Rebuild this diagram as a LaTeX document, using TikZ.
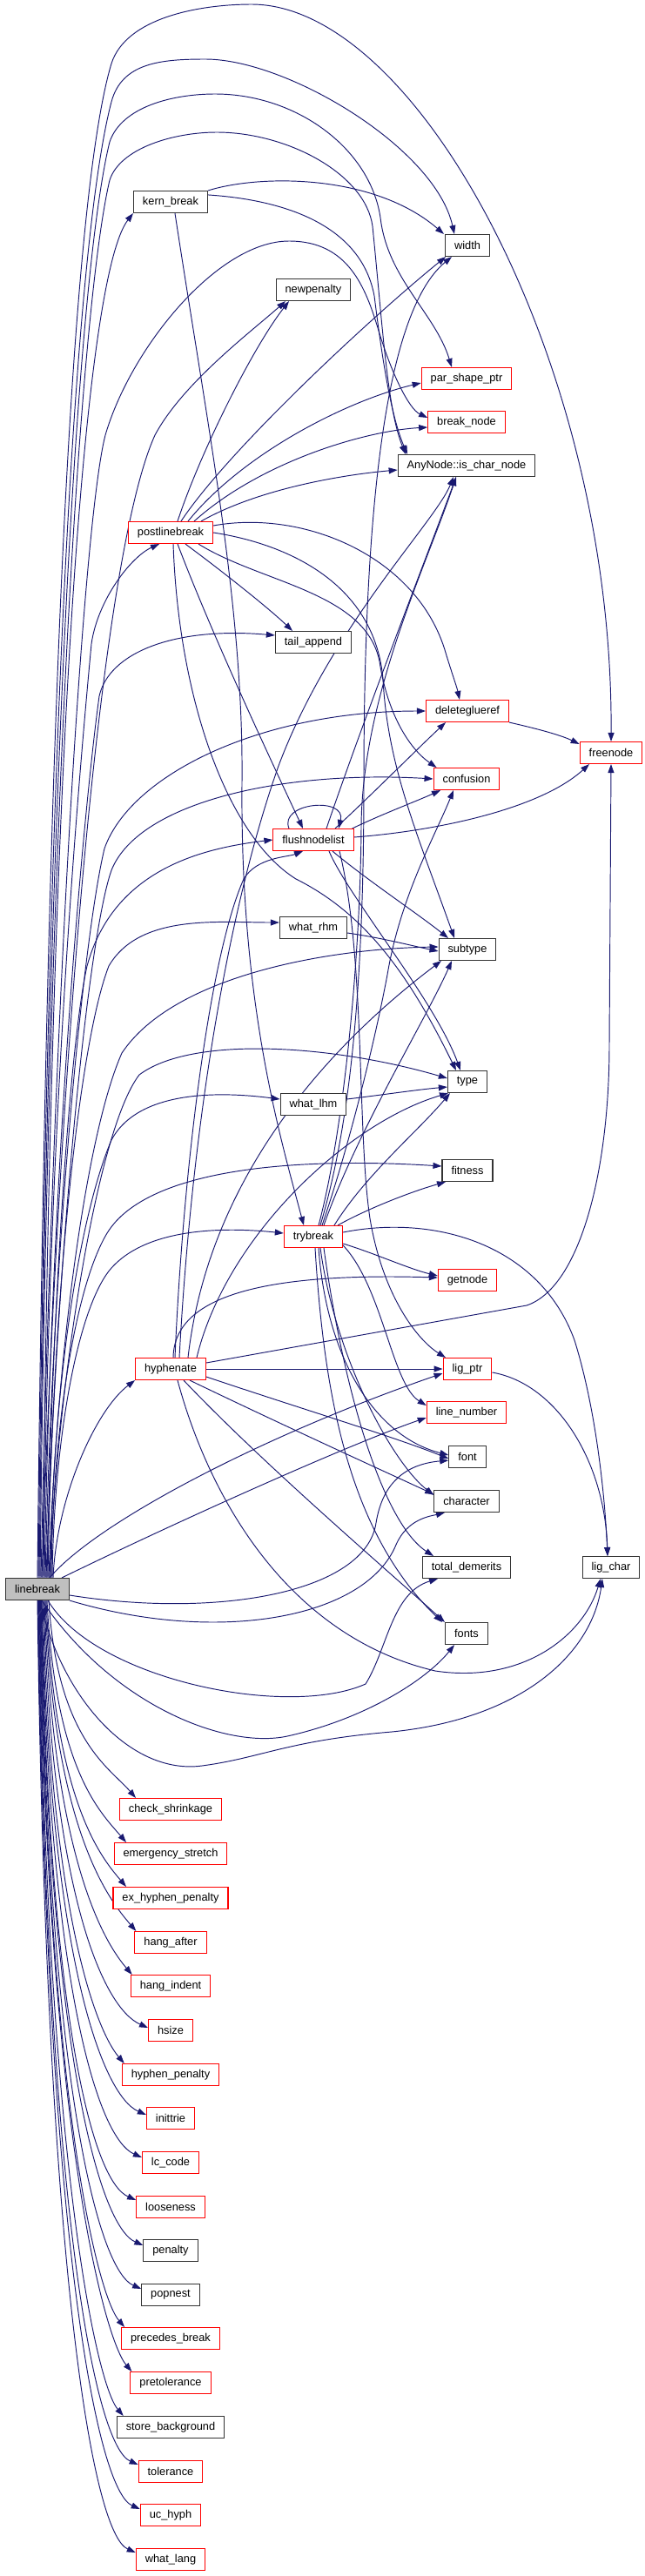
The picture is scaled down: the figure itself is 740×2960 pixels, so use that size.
\documentclass[tikz,border=0pt]{standalone}
\usepackage{fontspec}
\setmainfont{Liberation Sans}
\usetikzlibrary{arrows.meta}
\pgfdeclarelayer{edges}
\pgfsetlayers{edges,main}
\definecolor{eblue}{HTML}{191970}
\definecolor{nred}{HTML}{FF0000}
\newcommand\nodefont{\fontsize{12.8}{15}\selectfont}
\begin{document}
\begin{tikzpicture}[x=1pt,y=-1pt,
 box/.style={draw=black!80, line width=1.1pt, fill=white, minimum height=25pt, inner xsep=10.5pt, inner ysep=0pt, font=\nodefont, text=black},
 rbox/.style={box, draw=nred},
 e/.style={draw=eblue, line width=0.95pt, -{Triangle[length=10pt,width=7pt]}},
]
\useasboundingbox (0,0) rectangle (740,2960);
% nodes
\node[box, fill=gray!50] (linebreak) at (43,1826) {linebreak};
\node[box] (kernbreak) at (196,232) {kern\_break};
\node[rbox] (postlinebreak) at (196,612) {postlinebreak};
\node[rbox] (hyphenate) at (196,1573) {hyphenate};
\node[rbox] (checkshrinkage) at (196,2079) {check\_shrinkage};
\node[rbox] (emergencystretch) at (196,2130) {emergency\_stretch};
\node[rbox] (exhyphen) at (196,2181) {ex\_hyphen\_penalty};
\node[rbox] (hangafter) at (196,2232) {hang\_after};
\node[rbox] (hangindent) at (196,2282) {hang\_indent};
\node[rbox] (hsize) at (196,2333) {hsize};
\node[rbox] (hyphenpenalty) at (196,2384) {hyphen\_penalty};
\node[rbox] (inittrie) at (196,2434) {inittrie};
\node[rbox] (lccode) at (196,2485) {lc\_code};
\node[rbox] (looseness) at (196,2536) {looseness};
\node[box] (penalty) at (196,2586) {penalty};
\node[box] (popnest) at (196,2637) {popnest};
\node[rbox] (precedesbreak) at (196,2687) {precedes\_break};
\node[rbox] (pretolerance) at (196,2738) {pretolerance};
\node[box] (storebackground) at (196,2789) {store\_background};
\node[rbox] (tolerance) at (196,2840) {tolerance};
\node[rbox] (uchyph) at (196,2890) {uc\_hyph};
\node[rbox] (whatlang) at (196,2941) {what\_lang};
\node[box] (newpenalty) at (360,333) {newpenalty};
\node[box] (tailappend) at (360,738) {tail\_append};
\node[rbox] (flushnodelist) at (360,965) {flushnodelist};
\node[box] (whatrhm) at (360,1066) {what\_rhm};
\node[box] (whatlhm) at (360,1269) {what\_lhm};
\node[rbox] (trybreak) at (360,1421) {trybreak};
\node[box] (width) at (537,282) {width};
\node[rbox] (parshape) at (536,435) {par\_shape\_ptr};
\node[rbox] (breaknode) at (536,485) {break\_node};
\node[box] (ischar) at (536,535) {AnyNode::is\_char\_node};
\node[rbox] (deleteglueref) at (537,817) {deleteglueref};
\node[rbox] (confusion) at (536,895) {confusion};
\node[box] (subtype) at (537,1091) {subtype};
\node[box] (type) at (537,1243) {type};
\node[box] (fitness) at (537,1345) {fitness};
\node[rbox] (getnode) at (537,1471) {getnode};
\node[rbox] (ligptr) at (537,1573) {lig\_ptr};
\node[rbox] (linenumber) at (536,1623) {line\_number};
\node[box] (font) at (537,1674) {font};
\node[box] (character) at (536,1725) {character};
\node[box] (totaldemerits) at (536,1801) {total\_demerits};
\node[box] (fonts) at (536,1877) {fonts};
\node[rbox] (freenode) at (702,865) {freenode};
\node[box] (ligchar) at (702,1801) {lig\_char};

\begin{pgfonlayer}{edges}
\fill[white] (0,0) rectangle (740,2960);
% linebreak upward arcs
\draw[e] (linebreak.north) .. controls (52,1000) and (75,250) .. (128,73) .. controls (145,20) and (230,5) .. (289,5) .. controls (480,5) and (705,420) .. (freenode.north);
\draw[e] ([xshift=1pt]linebreak.north) .. controls (53,1000) and (80,300) .. (128,117) .. controls (140,72) and (185,68) .. (236,68) .. controls (330,68) and (500,170) .. ([xshift=-15pt]width.north);
\draw[e] ([xshift=2pt]linebreak.north) .. controls (54,1000) and (85,330) .. (126,163) .. controls (140,122) and (200,108) .. (247,108) .. controls (340,108) and (425,170) .. (437,250) .. controls (445,320) and (500,360) .. ([xshift=-17pt]parshape.north);
\draw[e] ([xshift=3pt]linebreak.north) .. controls (55,1000) and (90,360) .. (126,207) .. controls (138,170) and (200,152) .. (249,152) .. controls (330,152) and (420,200) .. (428,260) .. controls (440,380) and (445,470) .. ([xshift=-70pt]ischar.north);
\draw[e] ([xshift=4pt]linebreak.north) .. controls (60,1200) and (95,600) .. (121,500) .. controls (150,400) and (250,277) .. (332,277) .. controls (400,277) and (420,330) .. (435,380) .. controls (450,430) and (470,470) .. ([yshift=5pt]breaknode.west);
\draw[e] ([xshift=5pt]linebreak.north) .. controls (65,1300) and (110,650) .. (178,500) .. controls (210,440) and (290,380) .. ([xshift=-32pt]newpenalty.south);
\draw[e] ([xshift=6pt]linebreak.north) .. controls (58,900) and (95,320) .. (kernbreak.south west);
\draw[e] ([xshift=7pt]linebreak.north) .. controls (55,1300) and (90,900) .. (105,740) .. controls (112,690) and (150,640) .. ([xshift=-13pt]postlinebreak.south);
\draw[e] ([xshift=8pt]linebreak.north) .. controls (60,1300) and (100,900) .. (114,800) .. controls (125,750) and (200,720) .. ([yshift=8pt]tailappend.west);
\draw[e] ([xshift=9pt]linebreak.north) .. controls (60,1450) and (95,1080) .. (120,975) .. controls (150,890) and (300,817) .. (deleteglueref.west);
\draw[e] ([xshift=10pt]linebreak.north) .. controls (65,1450) and (100,1080) .. (128,1000) .. controls (160,920) and (330,885) .. (confusion.west);
\draw[e] ([xshift=11pt]linebreak.north) .. controls (60,1500) and (80,1200) .. (100,1110) .. controls (130,1000) and (230,975) .. (flushnodelist.west);
\draw[e] ([xshift=12pt]linebreak.north) .. controls (60,1500) and (90,1200) .. (125,1110) .. controls (160,1050) and (250,1060) .. ([yshift=6pt]whatrhm.west);
\draw[e] ([xshift=13pt]linebreak.north) .. controls (65,1550) and (100,1300) .. (140,1210) .. controls (200,1120) and (380,1090) .. ([yshift=3pt]subtype.west);
\draw[e] ([xshift=14pt]linebreak.north) .. controls (65,1600) and (110,1300) .. (160,1235) .. controls (220,1190) and (380,1200) .. ([yshift=4pt]type.west);
\draw[e] ([xshift=15pt]linebreak.north) .. controls (60,1600) and (90,1400) .. (128,1310) .. controls (160,1250) and (260,1255) .. ([yshift=6pt]whatlhm.west);
\draw[e] ([xshift=16pt]linebreak.north) .. controls (60,1650) and (85,1480) .. (123,1417) .. controls (170,1340) and (350,1330) .. ([yshift=5pt]fitness.west);
\draw[e] ([xshift=17pt]linebreak.north) .. controls (62,1650) and (90,1500) .. (128,1457) .. controls (170,1410) and (260,1410) .. ([yshift=4pt]trybreak.west);
\draw[e] ([xshift=18pt]linebreak.north) .. controls (65,1720) and (110,1620) .. (hyphenate.south west);
\draw[e] ([xshift=14pt]linebreak.north) .. controls (110,1750) and (300,1650) .. ([yshift=-5pt]ligptr.west);
\draw[e] ([xshift=28pt]linebreak.north) .. controls (200,1750) and (400,1660) .. ([yshift=-6pt]linenumber.west);
% linebreak right / bottom
\draw[e] ([yshift=-7pt]linebreak.east) .. controls (250,1860) and (420,1830) .. (432,1750) .. controls (440,1700) and (470,1682) .. ([yshift=-4pt]font.west);
\draw[e] (linebreak.south east) .. controls (250,1890) and (420,1860) .. (455,1775) .. controls (468,1745) and (495,1742) .. ([xshift=-25pt]character.south);
\draw[e] ([xshift=12pt]linebreak.south) .. controls (110,1930) and (330,1975) .. (420,1935) .. controls (445,1895) and (450,1830) .. ([xshift=-33pt]totaldemerits.south);
\draw[e] ([xshift=5pt]linebreak.south) .. controls (130,1960) and (260,2010) .. (330,1995) .. controls (420,1975) and (490,1930) .. ([xshift=-14pt]fonts.south);
\draw[e] ([xshift=3pt]linebreak.south) .. controls (70,1950) and (150,2040) .. (232,2029) .. controls (300,2020) and (330,2000) .. (450,1990) .. controls (600,1975) and (680,1900) .. ([xshift=-10pt]ligchar.south);
% linebreak downward list
\draw[e] ([xshift=13pt]linebreak.south) .. controls +(10,160) and +(-30,-35) .. ([xshift=-40pt]checkshrinkage.north);
\draw[e] ([xshift=11pt]linebreak.south) .. controls +(10,195) and +(-30,-35) .. ([xshift=-51pt]emergencystretch.north);
\draw[e] ([xshift=10pt]linebreak.south) .. controls +(10,230) and +(-30,-35) .. ([xshift=-51pt]exhyphen.north);
\draw[e] ([xshift=9pt]linebreak.south) .. controls +(10,267) and +(-30,-35) .. ([xshift=2pt]hangafter.north west);
\draw[e] ([xshift=8pt]linebreak.south) .. controls +(10,302) and +(-30,-35) .. ([xshift=2pt]hangindent.north west);
\draw[e] ([xshift=7pt]linebreak.south) .. controls +(10,344) and +(-50,-22) .. ([yshift=3pt]hsize.west);
\draw[e] ([xshift=6pt]linebreak.south) .. controls +(10,372) and +(-30,-35) .. ([xshift=3pt]hyphenpenalty.north west);
\draw[e] ([xshift=5pt]linebreak.south) .. controls +(10,414) and +(-50,-22) .. ([yshift=4pt]inittrie.west);
\draw[e] ([xshift=4.5pt]linebreak.south) .. controls +(10,448) and +(-50,-22) .. ([yshift=6pt]lccode.west);
\draw[e] ([xshift=4pt]linebreak.south) .. controls +(10,482) and +(-50,-22) .. ([yshift=8pt]looseness.west);
\draw[e] ([xshift=3.5pt]linebreak.south) .. controls +(10,519) and +(-50,-22) .. ([yshift=6pt]penalty.west);
\draw[e] ([xshift=3pt]linebreak.south) .. controls +(10,554) and +(-50,-22) .. ([yshift=7pt]popnest.west);
\draw[e] ([xshift=2.5pt]linebreak.south) .. controls +(10,585) and +(-30,-35) .. ([xshift=4pt]precedesbreak.north west);
\draw[e] ([xshift=2pt]linebreak.south) .. controls +(10,621) and +(-30,-35) .. ([xshift=2pt]pretolerance.north west);
\draw[e] ([xshift=1.5pt]linebreak.south) .. controls +(10,657) and +(-30,-35) .. ([xshift=8pt]storebackground.north west);
\draw[e] ([xshift=1pt]linebreak.south) .. controls +(10,695) and +(-50,-22) .. ([yshift=8pt]tolerance.west);
\draw[e] ([xshift=0.5pt]linebreak.south) .. controls +(10,731) and +(-50,-22) .. ([yshift=7pt]uchyph.west);
\draw[e] (linebreak.south) .. controls +(10,766) and +(-50,-22) .. ([yshift=8pt]whatlang.west);
% kern_break
\draw[e] (kernbreak.north east) .. controls (300,200) and (430,200) .. ([xshift=-27pt]width.north);
\draw[e] ([yshift=-5pt]kernbreak.north east) .. controls (330,230) and (415,260) .. (430,340) .. controls (440,420) and (450,480) .. ([xshift=-68pt]ischar.north);
\draw[e] ([xshift=5pt]kernbreak.south) .. controls (240,500) and (280,700) .. (278,900) .. controls (276,1150) and (320,1300) .. ([xshift=-11pt]trybreak.north);
% postlinebreak
\draw[e] ([xshift=8pt]postlinebreak.north) .. controls (230,520) and (290,400) .. ([xshift=-28pt]newpenalty.south);
\draw[e] ([xshift=12pt]postlinebreak.north) .. controls (260,520) and (420,370) .. ([xshift=-25pt]width.south);
\draw[e] ([xshift=20pt]postlinebreak.north) .. controls (280,520) and (400,460) .. ([yshift=-5pt]parshape.west);
\draw[e] ([xshift=27pt]postlinebreak.north) .. controls (300,530) and (420,495) .. ([yshift=-6pt]breaknode.west);
\draw[e] ([xshift=35pt]postlinebreak.north) .. controls (300,560) and (400,545) .. ([yshift=-5pt]ischar.west);
\draw[e] ([xshift=17pt]postlinebreak.south) .. controls (260,660) and (310,700) .. ([xshift=-24pt]tailappend.north);
\draw[e] ([xshift=8pt]postlinebreak.south) .. controls (240,720) and (300,850) .. ([xshift=-12pt]flushnodelist.north);
\draw[e] ([xshift=3pt]postlinebreak.south) .. controls (205,800) and (260,960) .. (340,1010) .. controls (420,1050) and (470,1120) .. ([xshift=-13pt]type.north);
\draw[e] ([xshift=32pt]postlinebreak.south) .. controls (300,670) and (420,680) .. (436,760) .. controls (445,820) and (470,860) .. ([xshift=4pt]confusion.north west);
\draw[e] (postlinebreak.east) .. controls (330,625) and (430,670) .. (440,780) .. controls (445,880) and (480,960) .. ([xshift=-15pt]subtype.north);
\draw[e] ([yshift=8pt]postlinebreak.east) .. controls (350,585) and (480,640) .. (512,750) .. controls (518,770) and (525,790) .. ([xshift=-9pt]deleteglueref.north);
% flushnodelist
\draw[e] ([xshift=-28pt]flushnodelist.north) .. controls (320,922) and (398,915) .. ([xshift=29pt]flushnodelist.north);
\draw[e] ([xshift=25pt]flushnodelist.north) .. controls (420,920) and (480,860) .. ([xshift=-25pt]deleteglueref.south);
\draw[e] ([xshift=-2pt]flushnodelist.north east) .. controls (440,935) and (480,920) .. ([xshift=-30pt]confusion.south);
\draw[e] ([yshift=3pt]flushnodelist.east) .. controls (500,955) and (620,930) .. ([xshift=-25pt]freenode.south);
\draw[e] ([xshift=15pt]flushnodelist.north) .. controls (420,820) and (490,640) .. ([xshift=-12pt]ischar.south);
\draw[e] ([xshift=22pt]flushnodelist.south) .. controls (420,1010) and (480,1050) .. ([xshift=-22pt]subtype.north);
\draw[e] ([xshift=18pt]flushnodelist.south) .. controls (400,1030) and (500,1150) .. ([xshift=-8pt]type.north);
\draw[e] ([xshift=30pt]flushnodelist.south) .. controls (420,1100) and (410,1300) .. (425,1400) .. controls (440,1490) and (480,1540) .. ([xshift=-25pt]ligptr.north);
% what_rhm / what_lhm
\draw[e] ([yshift=-6pt]whatrhm.east) .. controls (440,1078) and (470,1086) .. ([yshift=-2pt]subtype.west);
\draw[e] ([yshift=6pt]whatlhm.east) .. controls (440,1258) and (480,1252) .. ([yshift=-6pt]type.west);
% trybreak
\draw[e] ([xshift=8pt]trybreak.north) .. controls (400,1300) and (418,1150) .. (418,900) .. controls (418,600) and (440,360) .. ([xshift=-18pt]width.south);
\draw[e] ([xshift=6pt]trybreak.north) .. controls (395,1300) and (414,1100) .. (415,950) .. controls (416,800) and (490,650) .. ([xshift=-12pt]ischar.south);
\draw[e] ([xshift=10pt]trybreak.north) .. controls (400,1320) and (430,1200) .. (445,1120) .. controls (460,1030) and (500,960) .. ([xshift=-15pt]confusion.south);
\draw[e] ([xshift=12pt]trybreak.north) .. controls (410,1300) and (490,1170) .. ([xshift=-18pt]subtype.south);
\draw[e] ([xshift=24pt]trybreak.north) .. controls (420,1350) and (480,1300) .. ([xshift=-20pt]type.south);
\draw[e] ([xshift=28pt]trybreak.north) .. controls (420,1390) and (470,1370) .. ([xshift=-25pt]fitness.south);
\draw[e] ([yshift=-8pt]trybreak.east) .. controls (430,1440) and (470,1458) .. ([yshift=5pt]getnode.west);
\draw[e] ([yshift=5pt]trybreak.east) .. controls (500,1395) and (620,1430) .. (660,1540) .. controls (685,1620) and (695,1720) .. ([xshift=-4pt]ligchar.north);
\draw[e] ([yshift=-10pt]trybreak.east) .. controls (440,1480) and (450,1590) .. ([yshift=8pt]linenumber.west);
\draw[e] ([xshift=6pt]trybreak.south) .. controls (375,1560) and (430,1650) .. ([yshift=2pt]font.west);
\draw[e] ([xshift=8pt]trybreak.south) .. controls (385,1560) and (450,1680) .. ([yshift=7pt]character.west);
\draw[e] ([xshift=12pt]trybreak.south) .. controls (395,1600) and (440,1750) .. ([xshift=-38pt]totaldemerits.north);
\draw[e] ([xshift=2pt]trybreak.south) .. controls (372,1600) and (400,1760) .. ([xshift=-28pt]fonts.north);
% hyphenate
\draw[e] (hyphenate.east) -- (ligptr.west);
\draw[e] ([yshift=7pt]hyphenate.east) -- (605,1500) .. controls (665,1480) and (700,1350) .. (700,1200) -- (freenode.south);
\draw[e] ([yshift=-9pt]hyphenate.east) .. controls (350,1620) and (450,1650) .. ([yshift=-2pt]font.west);
\draw[e] ([xshift=22pt]hyphenate.south) .. controls (330,1640) and (440,1690) .. ([yshift=8pt]character.west);
\draw[e] ([xshift=15pt]hyphenate.south) .. controls (300,1680) and (440,1800) .. ([xshift=-25pt]fonts.north);
\draw[e] ([xshift=8pt]hyphenate.south) .. controls (240,1720) and (330,1880) .. (500,1920) .. controls (600,1935) and (670,1880) .. ([xshift=-12pt]ligchar.south);
\draw[e] ([xshift=3pt]hyphenate.north) .. controls (200,1490) and (300,1462) .. ([yshift=3pt]getnode.west);
\draw[e] ([xshift=5pt]hyphenate.north) .. controls (210,1350) and (240,1100) .. (280,1010) .. controls (295,985) and (330,985) .. ([xshift=-12pt]flushnodelist.south);
\draw[e] ([xshift=10pt]hyphenate.north) .. controls (220,1300) and (260,1050) .. (320,880) .. controls (380,720) and (500,600) .. ([xshift=-15pt]ischar.south);
\draw[e] ([xshift=30pt]hyphenate.north) .. controls (260,1420) and (400,1290) .. ([xshift=-22pt]type.south);
\draw[e] ([xshift=20pt]hyphenate.north) .. controls (240,1350) and (380,1200) .. ([xshift=-30pt]subtype.south);
% others
\draw[e] (deleteglueref.south east) .. controls (620,838) and (645,845) .. ([yshift=10pt]freenode.west);
\draw[e] ([yshift=-4pt]ligptr.east) .. controls (640,1590) and (695,1680) .. ([xshift=-4pt]ligchar.north);
\end{pgfonlayer}
\end{tikzpicture}
\end{document}
